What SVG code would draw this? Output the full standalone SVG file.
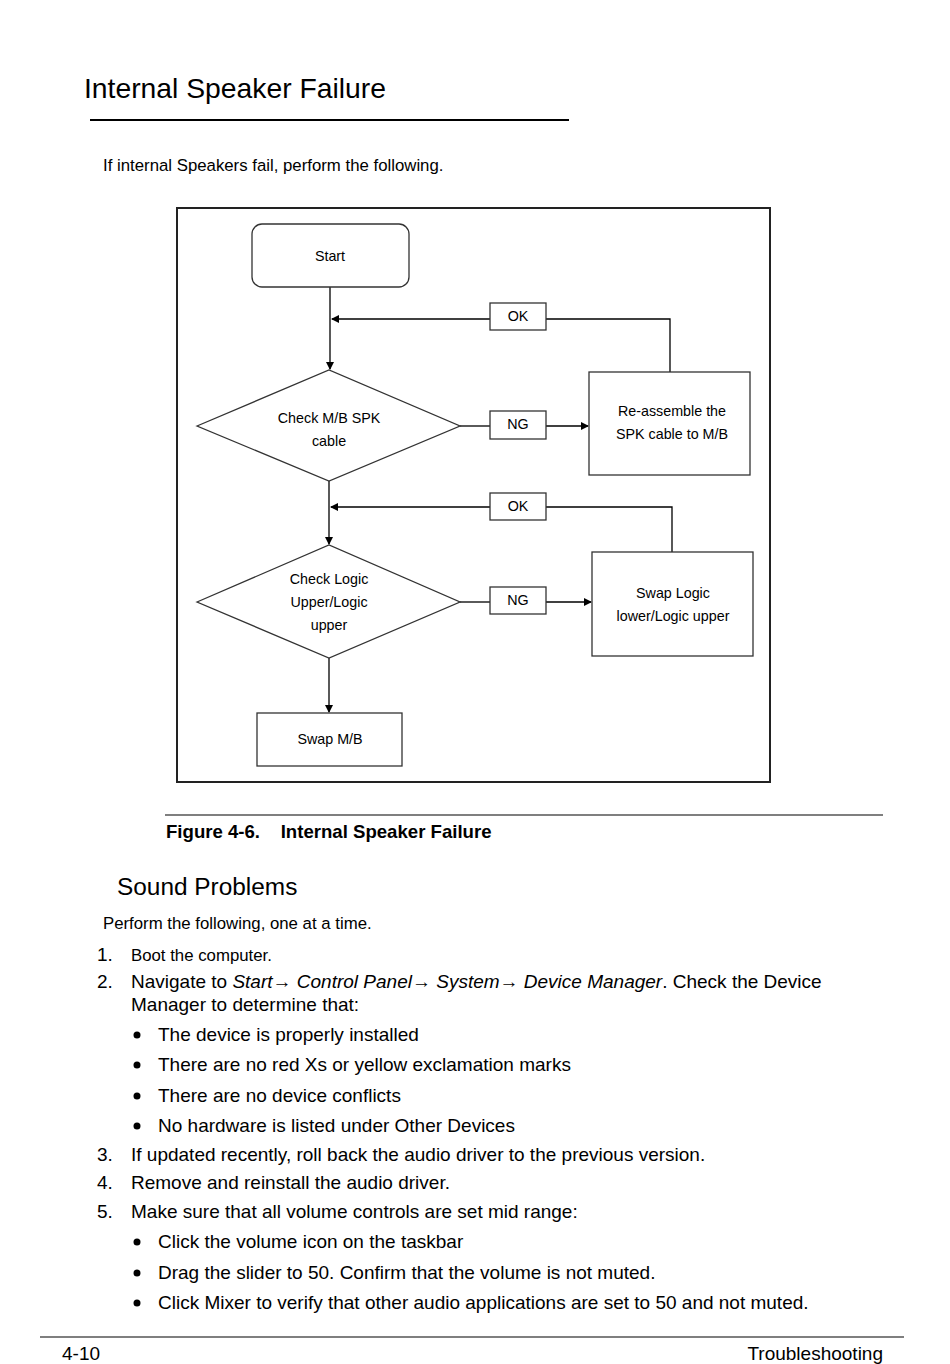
<svg xmlns="http://www.w3.org/2000/svg" width="950" height="1364" viewBox="0 0 950 1364">
<defs>
<marker id="ah" markerWidth="8" markerHeight="8" refX="7" refY="4" orient="auto" markerUnits="userSpaceOnUse">
<path d="M0,0 L8,4 L0,8 Z" fill="#000"/>
</marker>
<style>
text{font-family:"Liberation Sans",Arial,sans-serif;fill:#000}
.shape{fill:#fff;stroke:#333;stroke-width:1.3}
.fc{font-size:14.3px;text-anchor:middle}
.conn line,.conn polyline{stroke:#000;stroke-width:1.3;fill:none}
.b{font-size:19px}
</style>
</defs>
<rect width="950" height="1364" fill="#fff"/>
<text x="84" y="98" font-size="28.3">Internal Speaker Failure</text>
<line x1="90" y1="120" x2="569" y2="120" stroke="#000" stroke-width="2"/>
<text x="103" y="171" font-size="16.8">If internal Speakers fail, perform the following.</text>

<rect x="177" y="208" width="593" height="574" fill="none" stroke="#222" stroke-width="2"/>

<g class="conn">
<line x1="330" y1="287" x2="330" y2="369" marker-end="url(#ah)"/>
<line x1="490" y1="319" x2="332" y2="319" marker-end="url(#ah)"/>
<polyline points="546,319 670,319 670,372"/>
<line x1="460" y1="426" x2="490" y2="426"/>
<line x1="546" y1="426" x2="588" y2="426" marker-end="url(#ah)"/>
<line x1="329" y1="481" x2="329" y2="544" marker-end="url(#ah)"/>
<line x1="490" y1="507" x2="331" y2="507" marker-end="url(#ah)"/>
<polyline points="546,507 672,507 672,552"/>
<line x1="460" y1="602" x2="490" y2="602"/>
<line x1="546" y1="602" x2="591" y2="602" marker-end="url(#ah)"/>
<line x1="329" y1="658" x2="329" y2="712" marker-end="url(#ah)"/>
</g>

<g id="start"><rect class="shape" x="252" y="224" width="157" height="63" rx="10"/><text class="fc" x="330" y="261">Start</text></g>
<g id="ok1"><rect class="shape" x="490" y="303" width="56" height="27"/><text class="fc" x="518" y="321">OK</text></g>
<g id="check1"><polygon class="shape" points="197,426 329,370 460,426 329,481"/><text class="fc" x="329" y="423">Check M/B SPK</text><text class="fc" x="329" y="446">cable</text></g>
<g id="ng1"><rect class="shape" x="490" y="411" width="56" height="28"/><text class="fc" x="518" y="429">NG</text></g>
<g id="reassemble"><rect class="shape" x="589" y="372" width="161" height="103"/><text class="fc" x="672" y="416">Re-assemble the</text><text class="fc" x="672" y="439">SPK cable to M/B</text></g>
<g id="ok2"><rect class="shape" x="490" y="493" width="56" height="27"/><text class="fc" x="518" y="511">OK</text></g>
<g id="check2"><polygon class="shape" points="197,602 329,545 460,602 329,658"/><text class="fc" x="329" y="584">Check Logic</text><text class="fc" x="329" y="607">Upper/Logic</text><text class="fc" x="329" y="630">upper</text></g>
<g id="ng2"><rect class="shape" x="490" y="587" width="56" height="27"/><text class="fc" x="518" y="605">NG</text></g>
<g id="swaplogic"><rect class="shape" x="592" y="552" width="161" height="104"/><text class="fc" x="673" y="598">Swap Logic</text><text class="fc" x="673" y="621">lower/Logic upper</text></g>
<g id="swapmb"><rect class="shape" x="257" y="713" width="145" height="53"/><text class="fc" x="330" y="744">Swap M/B</text></g>

<line x1="165" y1="815" x2="883" y2="815" stroke="#000" stroke-width="1.2"/>
<text x="166" y="838" font-size="18.6" font-weight="bold" xml:space="preserve">Figure 4-6.    Internal Speaker Failure</text>

<text x="117" y="895" font-size="24.4">Sound Problems</text>
<text x="103" y="929" font-size="16.8">Perform the following, one at a time.</text>

<text x="97" y="961" class="b">1.</text><text x="131" y="961" font-size="16.8">Boot the computer.</text>
<text x="97" y="988" class="b">2.</text>
<text x="131" y="988" class="b">Navigate to <tspan font-style="italic">Start→ Control Panel→ System→ Device Manager</tspan>. Check the Device</text>
<text x="131" y="1011" class="b">Manager to determine that:</text>
<circle cx="137" cy="1035" r="3.5"/><text x="158" y="1041" class="b">The device is properly installed</text>
<circle cx="137" cy="1065" r="3.5"/><text x="158" y="1071" class="b">There are no red Xs or yellow exclamation marks</text>
<circle cx="137" cy="1096" r="3.5"/><text x="158" y="1102" class="b">There are no device conflicts</text>
<circle cx="137" cy="1126" r="3.5"/><text x="158" y="1132" class="b">No hardware is listed under Other Devices</text>
<text x="97" y="1161" class="b">3.</text><text x="131" y="1161" class="b">If updated recently, roll back the audio driver to the previous version.</text>
<text x="97" y="1189" class="b">4.</text><text x="131" y="1189" class="b">Remove and reinstall the audio driver.</text>
<text x="97" y="1218" class="b">5.</text><text x="131" y="1218" class="b">Make sure that all volume controls are set mid range:</text>
<circle cx="137" cy="1242" r="3.5"/><text x="158" y="1248" class="b">Click the volume icon on the taskbar</text>
<circle cx="137" cy="1273" r="3.5"/><text x="158" y="1279" class="b">Drag the slider to 50. Confirm that the volume is not muted.</text>
<circle cx="137" cy="1303" r="3.5"/><text x="158" y="1309" class="b">Click Mixer to verify that other audio applications are set to 50 and not muted.</text>

<line x1="40" y1="1337" x2="904" y2="1337" stroke="#000" stroke-width="1.2"/>
<text x="62" y="1360" font-size="19">4-10</text>
<text x="883" y="1360" font-size="19" text-anchor="end">Troubleshooting</text>
</svg>
